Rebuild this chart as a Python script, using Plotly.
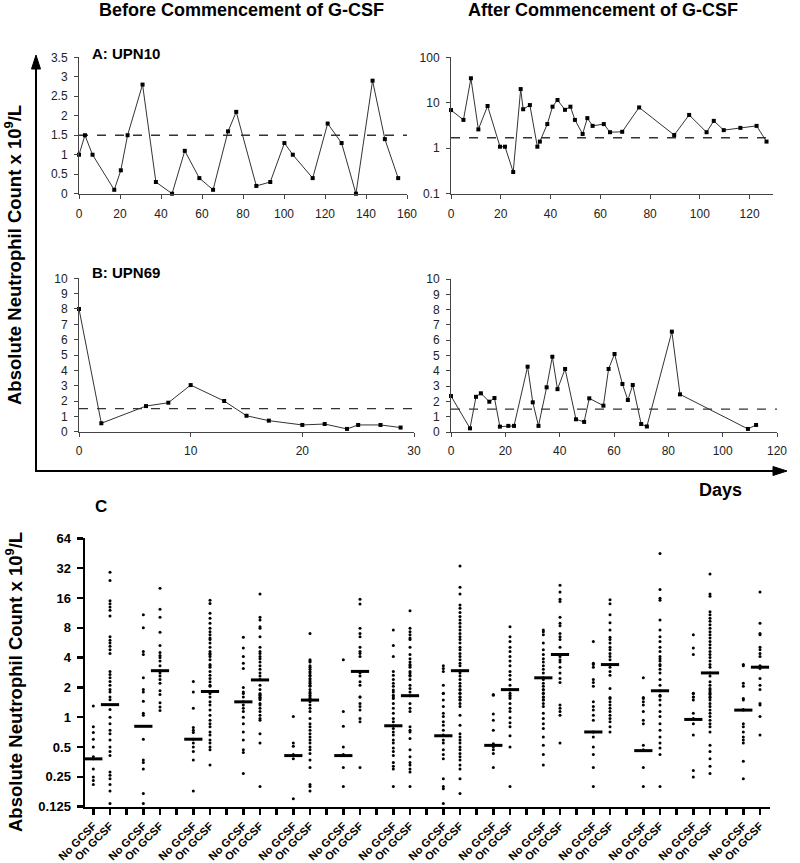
import plotly.graph_objects as go

# ---------------- data ----------------
# Panel A (UPN10) before G-CSF
a_before_days = [0, 2.9, 6.6, 17.2, 20.4, 23.7, 31, 37.5, 45.4, 51.6, 58.7, 65.4, 72.7, 76.7, 86.5, 93.3,
                 100.2, 104.3, 114, 121.3, 128.1, 135.1, 143.2, 149.2, 155.7]
a_before_anc = [1.0, 1.5, 1.0, 0.1, 0.6, 1.5, 2.8, 0.3, 0.0, 1.1, 0.4, 0.1, 1.6, 2.1, 0.2, 0.3,
                1.3, 1.0, 0.4, 1.8, 1.3, 0.0, 2.9, 1.4, 0.4]
# Panel A (UPN10) after G-CSF
a_after_days = [0, 5, 8, 11, 14.7, 19.7, 21.7, 25, 28, 29, 31.7, 34.7, 35.7, 38.7, 40.8, 42.8, 45.8, 48,
                49.8, 52.9, 54.8, 56.9, 61.4, 63.9, 68.8, 75.6, 89.7, 95.7, 102.7, 105.6, 109.6, 116.3,
                122.8, 126.8]
a_after_anc = [6.9, 4.2, 34.6, 2.6, 8.5, 1.08, 1.08, 0.3, 20, 7.2, 8.9, 1.08, 1.4, 3.4, 8.2, 11.5, 7.0, 8.2,
               4.2, 2.06, 4.6, 3.1, 3.4, 2.25, 2.3, 7.9, 1.95, 5.4, 2.25, 4.0, 2.5, 2.8, 3.1, 1.4]
# Panel B (UPN69) before G-CSF
b_before_days = [0, 2, 6, 8, 10, 13, 15, 17, 20, 22, 24, 25, 27, 28.8]
b_before_anc = [8.0, 0.55, 1.67, 1.89, 3.04, 2.0, 1.04, 0.72, 0.44, 0.5, 0.18, 0.44, 0.44, 0.27]
# Panel B (UPN69) after G-CSF
b_after_days = [0, 7, 9.2, 11, 14.1, 16, 18, 21.1, 23.2, 28.2, 30.1, 32.2, 35.2, 37.3, 39.2, 42, 46, 49,
                50.9, 56.1, 58, 60.2, 63.1, 65.1, 66.9, 70, 72.1, 81.3, 84.3, 109.3, 112.3]
b_after_anc = [2.35, 0.24, 2.3, 2.53, 1.98, 2.22, 0.35, 0.4, 0.4, 4.27, 1.94, 0.4, 2.92, 4.92, 2.8, 4.12,
               0.83, 0.66, 2.2, 1.72, 4.12, 5.1, 3.14, 2.09, 3.07, 0.52, 0.36, 6.56, 2.46, 0.2, 0.46]
threshold_linear = 1.5
threshold_log = 1.7

# Panel C: ANC per patient, without / with G-CSF
c01_no = [1.3, 0.8, 0.7, 0.6, 0.5, 0.4, 0.38, 0.3, 0.25, 0.23, 0.21]
c01_on = [29, 24, 15, 14, 13, 12, 10.5, 6.5, 6.0, 5.6, 5.2, 4.8, 4.4, 2.9, 2.7, 2.5, 2.3, 2.1, 1.9, 1.8, 1.6,
          1.5, 1.2, 1.0, 0.86, 0.74, 0.68, 0.59, 0.5, 0.45, 0.41, 0.28, 0.26, 0.24, 0.21, 0.18, 0.135]
c02_no = [10.8, 8.0, 4.6, 4.3, 2.5, 1.8, 1.9, 1.45, 1.1, 1.05, 0.6, 0.37, 0.35, 0.3, 0.17, 0.135]
c02_on = [20, 12.3, 10.2, 7.2, 5.3, 4.5, 4.2, 4.0, 3.7, 3.3, 2.95, 2.8, 2.6, 2.4, 2.2, 1.85, 1.7, 1.4, 1.27, 1.17]
c03_no = [2.3, 1.8, 1.23, 0.79, 0.74, 0.7, 0.6, 0.55, 0.5, 0.45, 0.37, 0.18]
c03_on = [15.2, 14.1, 11.2, 10, 8.9, 7.9, 7.3, 6.8, 6.3, 6.1, 5.6, 5.1, 4.6, 4.4, 4.3, 4.1, 3.8, 3.4, 3.3, 3.2,
          2.9, 2.65, 2.46, 2.28, 2.1, 2.05, 1.82, 1.74, 1.6, 1.43, 1.33, 1.18, 1.05, 0.93, 0.86, 0.8, 0.71,
          0.66, 0.59, 0.55, 0.5, 0.47, 0.33]
c04_no = [6.4, 5.0, 4.1, 3.5, 3.1, 2.0, 1.8, 1.74, 1.6, 1.43, 1.33, 1.23, 1.14, 1.0, 0.86, 0.71, 0.59, 0.47,
          0.44, 0.27]
c04_on = [17.5, 10.2, 9.6, 8.2, 7.9, 6.5, 5.1, 4.6, 4.4, 4.1, 3.9, 3.6, 3.3, 3.05, 2.8, 2.6, 2.4, 2.1, 1.9,
          1.7, 1.58, 1.74, 1.67, 1.6, 1.55, 1.5, 1.38, 1.33, 1.23, 1.14, 1.05, 0.97, 0.93, 0.68, 0.55, 0.2]
c05_no = [1.02, 0.55, 0.51, 0.42, 0.41, 0.38, 0.15]
c05_on = [7.0, 3.8, 3.7, 3.6, 3.3, 3.2, 3.05, 2.9, 2.8, 2.65, 2.6, 2.46, 2.38, 2.28, 2.2, 2.1, 2.05, 1.9, 1.75,
          1.6, 1.8, 1.67, 1.55, 1.43, 1.33, 1.23, 1.14, 0.97, 0.86, 0.8, 0.74, 0.68, 0.63, 0.59, 0.55, 0.5,
          0.47, 0.43, 0.37, 0.31, 0.21, 0.2, 0.18]
c06_no = [3.8, 1.14, 0.81, 0.5, 0.42, 0.41, 0.31, 0.2]
c06_on = [15.5, 13.9, 7.9, 7.0, 6.5, 5.1, 4.6, 4.4, 4.1, 2.9, 2.8, 2.6, 2.28, 2.1, 1.6, 1.6, 1.38, 1.28, 1.18,
          0.97, 0.9, 0.31]
c07_no = [7.6, 5.3, 4.1, 2.9, 2.65, 2.4, 2.2, 2.05, 1.8, 1.6, 1.88, 1.67, 1.55, 1.38, 1.23, 1.1, 0.97, 0.9,
          0.82, 0.77, 0.71, 0.66, 0.59, 0.55, 0.49, 0.45, 0.41, 0.35, 0.32, 0.3, 0.2]
c07_on = [11.9, 7.9, 7.3, 6.8, 6.3, 6.1, 5.1, 4.3, 3.9, 3.6, 3.4, 3.3, 3.2, 2.9, 2.8, 2.65, 2.6, 2.4, 2.1,
          1.95, 1.8, 1.65, 1.38, 1.23, 1.14, 0.8, 0.74, 0.71, 0.61, 0.47, 0.4, 0.35, 0.33, 0.3, 0.28, 0.2]
c08_no = [3.3, 3.1, 2.9, 2.1, 1.75, 1.74, 1.49, 1.28, 1.1, 1.02, 0.9, 0.83, 0.74, 0.66, 0.59, 0.55, 0.47,
          0.42, 0.38, 0.24, 0.2, 0.19, 0.135]
c08_on = [33.6, 20.5, 17.5, 13.6, 12.6, 11.4, 10.4, 9.6, 8.9, 8.2, 7.6, 7.0, 6.5, 6.1, 5.6, 5.1, 4.8, 4.4, 4.1,
          3.8, 3.5, 3.3, 2.95, 2.8, 2.6, 2.4, 2.2, 2.05, 1.9, 1.75, 1.6, 1.5, 1.88, 1.74, 1.6, 1.49, 1.38,
          1.28, 1.05, 0.83, 0.68, 0.63, 0.59, 0.55, 0.5, 0.47, 0.43, 0.4, 0.37, 0.33, 0.3, 0.24, 0.17]
c09_no = [1.7, 1.67, 1.08, 0.93, 0.74, 0.54, 0.5, 0.47, 0.43, 0.31]
c09_on = [8.2, 6.5, 5.8, 5.1, 4.6, 4.1, 3.7, 3.3, 2.9, 2.65, 2.4, 2.1, 1.9, 1.75, 1.6, 1.88, 1.67, 1.55, 1.38,
          1.23, 1.14, 0.99, 0.88, 0.8, 0.65, 0.5, 0.2]
c10_no = [7.6, 7.3, 6.8, 5.6, 4.8, 4.3, 3.9, 3.6, 3.3, 3.05, 2.8, 2.5, 2.4, 2.2, 2.05, 1.9, 1.75, 1.6, 1.5,
          1.88, 1.74, 1.6, 1.49, 1.38, 1.28, 1.1, 0.97, 0.86, 0.77, 0.63, 0.52, 0.42, 0.33]
c10_on = [21.5, 18.4, 15.5, 14.7, 10.2, 8.9, 8.4, 7.0, 6.5, 6.1, 5.1, 4.3, 4.1, 3.8, 3.6, 3.2, 2.8, 2.46, 2.24,
          1.33, 1.23, 1.14, 1.05, 0.55]
c11_no = [5.8, 3.5, 3.4, 3.2, 2.4, 2.24, 2.05, 1.43, 1.28, 1.18, 1.05, 0.93, 0.71, 0.63, 0.5, 0.42, 0.31, 0.2]
c11_on = [15.3, 14.0, 10.8, 9.0, 7.6, 6.4, 6.1, 5.6, 5.1, 4.8, 4.4, 4.1, 3.8, 3.4, 3.2, 2.9, 2.65, 1.95,
          1.58, 1.55, 1.43, 1.33, 1.23, 1.14, 1.05, 0.97, 0.9, 0.8, 0.71]
c12_no = [2.5, 1.58, 1.55, 1.43, 1.33, 1.14, 0.93, 0.86, 0.52, 0.47, 0.31, 0.2]
c12_on = [45, 19.5, 15.9, 15.2, 9.6, 7.6, 6.5, 5.8, 5.1, 4.6, 4.1, 3.9, 3.7, 3.4, 3.3, 3.05, 2.8, 2.4, 2.1,
          1.85, 1.63, 1.67, 1.49, 1.33, 1.14, 1.02, 0.86, 0.74, 0.63, 0.55, 0.49, 0.42, 0.2]
c13_no = [6.8, 5.0, 4.3, 1.75, 1.6, 1.74, 1.6, 1.49, 1.1, 0.97, 0.86, 0.66, 0.29, 0.25]
c13_on = [27.9, 17.5, 16.6, 11.6, 10.8, 10.0, 9.3, 8.6, 7.9, 7.3, 6.8, 6.3, 5.8, 5.4, 5.0, 4.6, 4.3, 4.0, 3.7,
          3.4, 3.2, 2.8, 2.6, 2.28, 2.1, 1.95, 1.8, 1.7, 1.58, 1.88, 1.74, 1.6, 1.49, 1.38, 1.28, 1.18, 1.1,
          1.02, 0.93, 0.86, 0.8, 0.71, 0.52, 0.45, 0.38, 0.32, 0.27]
c14_no = [3.4, 3.3, 2.2, 2.05, 1.55, 1.49, 1.2, 1.18, 0.86, 0.8, 0.71, 0.63, 0.59, 0.55, 0.36, 0.24]
c14_on = [18.4, 8.9, 7.0, 6.8, 5.1, 4.8, 4.4, 4.1, 3.3, 3.2, 3.1, 2.46, 2.1, 1.9, 1.38, 1.33, 1.02, 0.66]

median_no = [0.38, 0.81, 0.6, 1.43, 0.41, 0.41, 0.82, 0.65, 0.52, 2.5, 0.71, 0.46, 0.95, 1.18]
median_on = [1.34, 2.95, 1.82, 2.38, 1.49, 2.9, 1.65, 2.95, 1.9, 4.3, 3.4, 1.85, 2.8, 3.2]

group_labels = ["No GCSF", "On GCSF"]
c_yticks = [0.125, 0.25, 0.5, 1, 2, 4, 8, 16, 32, 64]
c_yticklabels = ["0.125", "0.25", "0.5", "1", "2", "4", "8", "16", "32", "64"]

no_groups = [c01_no, c02_no, c03_no, c04_no, c05_no, c06_no, c07_no,
             c08_no, c09_no, c10_no, c11_no, c12_no, c13_no, c14_no]
on_groups = [c01_on, c02_on, c03_on, c04_on, c05_on, c06_on, c07_on,
             c08_on, c09_on, c10_on, c11_on, c12_on, c13_on, c14_on]

# ---------------- layout helpers ----------------
W, H = 800, 863
FONT = "Arial, Liberation Sans, sans-serif"


def fx(p):
    return p / W


def fy(p):
    return 1 - p / H


fig = go.Figure()

line_style = dict(color="#333333", width=1)
marker_style = dict(symbol="square", size=4, color="black")

panels = [
    (a_before_days, a_before_anc, "x", "y"),
    (a_after_days, a_after_anc, "x2", "y2"),
    (b_before_days, b_before_anc, "x3", "y3"),
    (b_after_days, b_after_anc, "x4", "y4"),
]
for xs, ys, xa, ya in panels:
    fig.add_trace(go.Scatter(x=xs, y=ys, mode="lines+markers", line=line_style, marker=marker_style,
                             xaxis=xa, yaxis=ya, cliponaxis=False, showlegend=False, hoverinfo="skip"))

# Panel C points
xs_pts, ys_pts = [], []
for g in range(len(no_groups)):
    for k, grp in enumerate((no_groups[g], on_groups[g])):
        xs_pts += [3 * g + k] * len(grp)
        ys_pts += grp
fig.add_trace(go.Scatter(x=xs_pts, y=ys_pts, mode="markers", xaxis="x5", yaxis="y5",
                         marker=dict(symbol="circle", size=3, color="black"),
                         cliponaxis=False, showlegend=False, hoverinfo="skip"))
med_x, med_y = [], []
for g in range(len(median_no)):
    med_x += [3 * g, 3 * g + 1]
    med_y += [median_no[g], median_on[g]]
fig.add_trace(go.Scatter(x=med_x, y=med_y, mode="markers", xaxis="x5", yaxis="y5",
                         marker=dict(symbol="line-ew", size=13, line=dict(color="black", width=3)),
                         cliponaxis=False, showlegend=False, hoverinfo="skip"))

top_ax = dict(showgrid=False, zeroline=False, showline=True, linecolor="#444", linewidth=1,
              ticks="outside", ticklen=4, tickcolor="#444", tickwidth=1, automargin=False,
              tickfont=dict(family=FONT, size=12, color="#222"), fixedrange=True)

n_slots = 3 * len(median_no) - 1
c_major_x = [3 * g + k for g in range(len(median_no)) for k in range(2)]
c_major_text = [group_labels[k] for g in range(len(median_no)) for k in range(2)]
c_minor_x = list(range(n_slots))

fig.update_layout(
    width=W, height=H, margin=dict(l=0, r=0, t=0, b=0, autoexpand=False),
    paper_bgcolor="white", plot_bgcolor="white", showlegend=False,
    xaxis=dict(top_ax, domain=[fx(79), fx(407)], range=[0, 160], tickvals=list(range(0, 161, 20)),
               anchor="y", ticklabelstandoff=5),
    yaxis=dict(top_ax, domain=[fy(193.7), fy(57.3)], range=[0, 3.5], tickvals=[0, 0.5, 1, 1.5, 2, 2.5, 3, 3.5],
               ticktext=["0", "0.5", "1", "1.5", "2", "2.5", "3", "3.5"], anchor="x", ticklabelstandoff=4),
    xaxis2=dict(top_ax, domain=[fx(451), fx(773)], range=[0, 129.4], tickvals=list(range(0, 121, 20)),
                anchor="y2", ticklabelstandoff=5),
    yaxis2=dict(top_ax, domain=[fy(193.7), fy(57.3)], type="log", range=[-1, 2], tickvals=[0.1, 1, 10, 100],
                ticktext=["0.1", "1", "10", "100"], anchor="x2", ticklabelstandoff=4),
    xaxis3=dict(top_ax, domain=[fx(79), fx(414)], range=[0, 30], tickvals=[0, 10, 20, 30],
                anchor="y3", ticklabelstandoff=4),
    yaxis3=dict(top_ax, domain=[fy(431.7), fy(278.3)], range=[0, 10], tickvals=list(range(0, 11)),
                anchor="x3", ticklabelstandoff=4),
    xaxis4=dict(top_ax, domain=[fx(451), fx(777)], range=[0, 120], tickvals=list(range(0, 121, 20)),
                anchor="y4", ticklabelstandoff=4),
    yaxis4=dict(top_ax, domain=[fy(432), fy(279)], range=[0, 10], tickvals=list(range(0, 11)),
                anchor="x4", ticklabelstandoff=4),
    xaxis5=dict(domain=[fx(85), fx(770)], range=[-0.5, 40.6], anchor="y5", showgrid=False, zeroline=False,
                showline=True, linecolor="black", linewidth=2.5, ticks="outside", ticklen=6, tickwidth=2.5,
                tickcolor="black", tickvals=c_major_x, ticktext=c_major_text, tickangle=-45, automargin=False,
                minor=dict(tickmode="array", tickvals=c_minor_x, ticks="outside", ticklen=6, tickwidth=2.5,
                           tickcolor="black", showgrid=False),
                tickfont=dict(family=FONT, size=11, color="black", weight="bold"), fixedrange=True),
    yaxis5=dict(domain=[fy(806.7), fy(538.3)], type="log", range=[-0.90309, 1.80618], anchor="x5",
                showgrid=False, zeroline=False, showline=True, linecolor="black", linewidth=2.5,
                ticks="outside", ticklen=6, tickwidth=2.5, tickcolor="black", tickvals=c_yticks,
                ticktext=c_yticklabels, tickfont=dict(family=FONT, size=13, color="black", weight="bold"),
                ticklabelstandoff=3, automargin=False, fixedrange=True),
)

# dashed threshold lines
for xa, ya, thr in [("x", "y", threshold_linear), ("x2", "y2", threshold_log),
                    ("x3", "y3", threshold_linear), ("x4", "y4", threshold_linear)]:
    fig.add_shape(type="line", xref=f"{xa} domain", yref=ya, x0=0, x1=1, y0=thr, y1=thr,
                  line=dict(color="#333", width=1.3, dash="dash"), layer="below")

# frame arrows (lines + filled heads)
frame = dict(color="black", width=2)
fig.add_shape(type="line", xref="paper", yref="paper", x0=fx(36), x1=fx(36), y0=fy(472), y1=fy(66), line=frame)
fig.add_shape(type="line", xref="paper", yref="paper", x0=fx(35), x1=fx(776), y0=fy(471), y1=fy(471), line=frame)
fig.add_shape(type="path", xref="paper", yref="paper",
              path=f"M {fx(36)},{fy(55)} L {fx(31.5)},{fy(69)} L {fx(40.5)},{fy(69)} Z",
              fillcolor="black", line=dict(color="black", width=1))
fig.add_shape(type="path", xref="paper", yref="paper",
              path=f"M {fx(787)},{fy(471)} L {fx(773)},{fy(466.5)} L {fx(773)},{fy(475.5)} Z",
              fillcolor="black", line=dict(color="black", width=1))

ann = []


def text(x, y, s, size, xanchor="center", angle=0, bold=True):
    ann.append(dict(x=fx(x), y=fy(y), xref="paper", yref="paper", text=s, showarrow=False,
                    xanchor=xanchor, yanchor="middle", textangle=angle,
                    font=dict(family=FONT, size=size, color="black", weight="bold" if bold else "normal")))


text(241, 10, "Before Commencement of G-CSF", 18)
text(603, 10, "After Commencement of G-CSF", 18)
text(90, 53, "A: UPN10", 15, xanchor="left")
text(90, 272, "B: UPN69", 15, xanchor="left")
text(13, 255, "Absolute Neutrophil Count x 10<sup>9</sup>/L", 18.5, angle=-90)
text(720, 490, "Days", 18)
text(101, 506, "C", 17)
text(14, 682, "Absolute Neutrophil Count x 10<sup>9</sup>/L", 18.5, angle=-90)
fig.update_layout(annotations=ann)

fig.write_html("out.html", config={"displayModeBar": False, "staticPlot": True},
               post_script="document.body.style.margin='0';document.body.style.padding='0';"
                           "document.documentElement.style.overflow='hidden';")
